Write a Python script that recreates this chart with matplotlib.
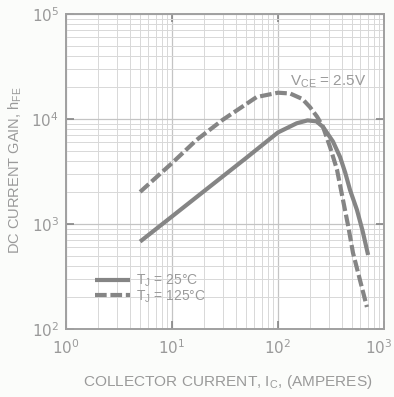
import matplotlib
matplotlib.use("Agg")
import matplotlib.pyplot as plt
from matplotlib.ticker import LogLocator, NullFormatter, FixedLocator
from matplotlib.transforms import ScaledTranslation

plt.rcParams['font.family'] = ['Liberation Sans', 'DejaVu Sans']

# Data
ic_25 = [5, 10, 20, 50, 100, 150, 190, 230, 266, 330, 385, 430, 478, 556, 630, 708]
hfe_25 = [680, 1180, 2050, 4250, 7450, 9100, 9700, 9500, 8400, 6100, 4350, 3100, 2110, 1360, 850, 507]

ic_125 = [5, 10, 17, 30, 63, 100, 130, 170, 200, 234, 266, 310, 360, 410, 460, 510, 600, 690]
hfe_125 = [2020, 3800, 6300, 9800, 16200, 17800, 17500, 15500, 13000, 10500, 8400, 5400, 3300, 1700, 950, 530, 280, 162]

xticks = [1, 10, 100, 1000]
xticklabels = [r'$10^0$', r'$10^1$', r'$10^2$', r'$10^3$']
yticks = [100, 1000, 10000, 100000]
yticklabels = [r'$10^2$', r'$10^3$', r'$10^4$', r'$10^5$']

legend_labels = [r'T$_\mathregular{J}$ = 25°C', r'T$_\mathregular{J}$ = 125°C']

grey = '#858585'
txt = '#9a9a9a'

fig = plt.figure(figsize=(3.94, 3.97), dpi=100)
fig.patch.set_facecolor('#fbfcfa')
ax = fig.add_axes([66/394, 1-329/397, (384-66)/394, (329-14)/397])
ax.set_facecolor('white')
ax.set_xscale('log')
ax.set_yscale('log')
ax.set_xlim(1, 1000)
ax.set_ylim(100, 100000)

ax.xaxis.set_major_locator(FixedLocator(xticks))
ax.yaxis.set_major_locator(FixedLocator(yticks))
ax.set_xticklabels(xticklabels)
ax.set_yticklabels(yticklabels)
ax.xaxis.set_minor_locator(LogLocator(base=10, subs=[2, 3, 4, 5, 6, 7, 8, 9]))
ax.yaxis.set_minor_locator(LogLocator(base=10, subs=[2, 3, 4, 5, 6, 7, 8, 9]))
ax.xaxis.set_minor_formatter(NullFormatter())
ax.yaxis.set_minor_formatter(NullFormatter())

ax.grid(True, which='major', color='#c4c4c4', lw=0.9)
ax.grid(True, which='minor', color='#d8d8d8', lw=0.7)
ax.set_axisbelow(True)

ax.tick_params(which='major', direction='in', length=6, width=1.2, color=grey,
               top=True, right=True, labelsize=11, labelcolor=txt)
ax.tick_params(axis='x', which='major', pad=7)
ax.tick_params(axis='y', which='major', pad=5)
ax.tick_params(which='minor', length=0)
for s in ax.spines.values():
    s.set_color('#a0a0a0')
    s.set_linewidth(1.4)

# keep the last x tick label inside the figure
last = ax.xaxis.get_major_ticks()[-1].label1
last.set_transform(last.get_transform() + ScaledTranslation(-4/72, 0, fig.dpi_scale_trans))

ax.plot(ic_25, hfe_25, color=grey, lw=3.0, solid_capstyle='butt', label=legend_labels[0])
ax.plot(ic_125, hfe_125, color=grey, lw=3.0, dashes=(2.8, 0.9), label=legend_labels[1])

leg = ax.legend(loc='lower left', bbox_to_anchor=(0.075, 0.06), frameon=False,
                fontsize=10, handlelength=2.5, handletextpad=0.4, labelspacing=-0.05,
                borderaxespad=0)
for t in leg.get_texts():
    t.set_color(txt)

ax.text(130, 22500, r'V$_\mathregular{CE}$ = 2.5V', fontsize=11, color=txt,
        ha='left', va='center')

fig.text(228/394, 1-382/397, r'COLLECTOR CURRENT, I$_\mathregular{C}$, (AMPERES)',
         fontsize=11.1, color=txt, ha='center', va='center')
fig.text(15/394, 1-170/397, r'DC CURRENT GAIN, h$_\mathregular{FE}$',
         fontsize=10.5, color=txt, ha='center', va='center', rotation=90)

fig.savefig('out.png', dpi=100, facecolor=fig.get_facecolor())
